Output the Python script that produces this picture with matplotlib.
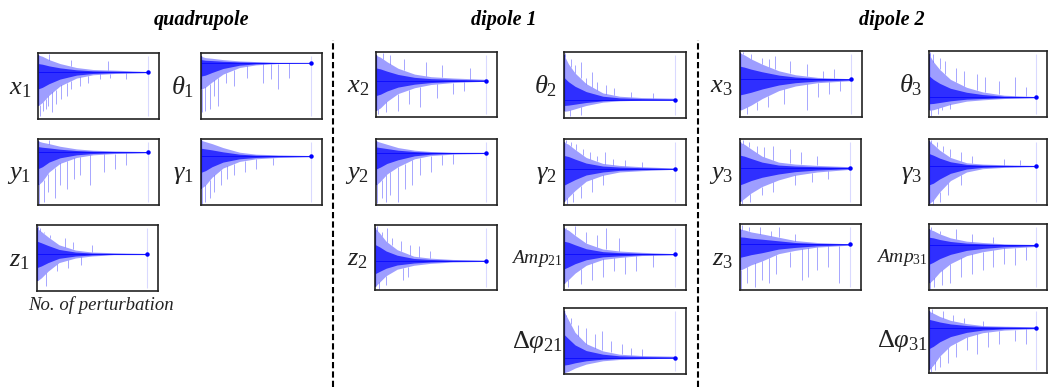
import matplotlib
matplotlib.use('Agg')
import matplotlib.pyplot as plt
import numpy as np

plt.rcParams['mathtext.fontset'] = 'custom'
plt.rcParams['mathtext.rm'] = 'Liberation Serif'
plt.rcParams['mathtext.it'] = 'Liberation Serif:italic'

W, H = 1049, 387

# perturbation index where each envelope value was read
grid = [0, 40, 100, 200, 350, 500, 700, 1000]

labels = [r'$x_{\mathit{1}}$', r'$\theta_{\mathit{1}}$', r'$y_{\mathit{1}}$', r'$\gamma_{\mathit{1}}$', r'$z_{\mathit{1}}$',
          r'$x_{2}$', r'$\theta_{2}$', r'$y_{2}$', r'$\gamma_{2}$', r'$z_{2}$',
          r'$\mathit{Amp}_{\mathit{21}}$', r'$\Delta\varphi_{\mathit{21}}$',
          r'$x_{3}$', r'$\theta_{3}$', r'$y_{3}$', r'$\gamma_{3}$', r'$z_{3}$',
          r'$\mathit{Amp}_{\mathit{31}}$', r'$\Delta\varphi_{\mathit{31}}$']

# converged value of each parameter (fraction of panel height)
levels = [0.71, 0.85, 0.80, 0.74, 0.56,
          0.56, 0.28, 0.79, 0.55, 0.45, 0.55, 0.25,
          0.57, 0.30, 0.56, 0.59, 0.69, 0.68, 0.70]

band_hi = [
    [0.97, 0.95, 0.90, 0.84, 0.78, 0.75, 0.74, 0.72],
    [0.95, 0.93, 0.92, 0.90, 0.88, 0.87, 0.86, 0.86],
    [0.97, 0.95, 0.93, 0.89, 0.85, 0.83, 0.82, 0.81],
    [0.98, 0.96, 0.93, 0.87, 0.80, 0.77, 0.76, 0.75],
    [0.95, 0.90, 0.82, 0.70, 0.62, 0.59, 0.58, 0.57],
    [0.95, 0.92, 0.85, 0.75, 0.66, 0.62, 0.60, 0.58],
    [0.95, 0.82, 0.68, 0.52, 0.38, 0.33, 0.31, 0.30],
    [0.97, 0.95, 0.92, 0.87, 0.83, 0.81, 0.80, 0.80],
    [0.95, 0.92, 0.84, 0.72, 0.63, 0.60, 0.58, 0.56],
    [0.95, 0.88, 0.75, 0.62, 0.52, 0.49, 0.47, 0.46],
    [0.95, 0.92, 0.84, 0.72, 0.63, 0.60, 0.58, 0.56],
    [0.95, 0.82, 0.63, 0.46, 0.35, 0.30, 0.28, 0.27],
    [0.97, 0.94, 0.88, 0.80, 0.70, 0.64, 0.60, 0.58],
    [0.95, 0.84, 0.72, 0.57, 0.45, 0.38, 0.33, 0.31],
    [0.95, 0.92, 0.85, 0.74, 0.65, 0.62, 0.60, 0.58],
    [0.97, 0.92, 0.83, 0.72, 0.64, 0.62, 0.61, 0.60],
    [0.92, 0.91, 0.88, 0.85, 0.80, 0.75, 0.72, 0.70],
    [0.92, 0.90, 0.85, 0.79, 0.74, 0.72, 0.70, 0.69],
    [0.95, 0.92, 0.87, 0.81, 0.76, 0.73, 0.72, 0.71],
]

band_lo = [
    [0.20, 0.25, 0.36, 0.50, 0.62, 0.67, 0.69, 0.70],
    [0.45, 0.48, 0.56, 0.68, 0.78, 0.82, 0.84, 0.85],
    [0.30, 0.36, 0.50, 0.63, 0.72, 0.76, 0.78, 0.79],
    [0.25, 0.30, 0.42, 0.56, 0.66, 0.70, 0.72, 0.73],
    [0.15, 0.20, 0.30, 0.43, 0.50, 0.53, 0.55, 0.55],
    [0.10, 0.14, 0.24, 0.36, 0.45, 0.50, 0.53, 0.55],
    [0.10, 0.11, 0.14, 0.19, 0.24, 0.26, 0.27, 0.27],
    [0.30, 0.36, 0.47, 0.58, 0.70, 0.75, 0.77, 0.78],
    [0.05, 0.12, 0.22, 0.36, 0.45, 0.50, 0.52, 0.54],
    [0.05, 0.12, 0.22, 0.32, 0.38, 0.41, 0.43, 0.44],
    [0.10, 0.16, 0.26, 0.38, 0.47, 0.50, 0.53, 0.54],
    [0.02, 0.04, 0.09, 0.15, 0.20, 0.22, 0.23, 0.24],
    [0.10, 0.13, 0.18, 0.28, 0.40, 0.47, 0.52, 0.55],
    [0.10, 0.11, 0.14, 0.19, 0.24, 0.26, 0.28, 0.29],
    [0.05, 0.10, 0.18, 0.28, 0.38, 0.45, 0.50, 0.54],
    [0.02, 0.07, 0.20, 0.37, 0.50, 0.55, 0.57, 0.58],
    [0.30, 0.33, 0.38, 0.44, 0.55, 0.60, 0.65, 0.68],
    [0.10, 0.16, 0.27, 0.40, 0.52, 0.58, 0.63, 0.66],
    [0.05, 0.12, 0.26, 0.42, 0.55, 0.62, 0.66, 0.68],
]

# isolated excursions: perturbation index and extreme value
spike_x = [
    [15, 45, 70, 95, 100, 130, 160, 210, 260, 300, 300, 380, 450, 560, 640, 650, 800],
    [10, 40, 80, 120, 150, 230, 300, 420, 560, 640, 700, 800],
    [10, 50, 90, 100, 150, 200, 260, 330, 380, 470, 600, 700, 800],
    [5, 40, 80, 120, 180, 240, 300, 400, 500, 650],
    [10, 30, 60, 80, 120, 180, 250, 280, 330, 400, 500],
    [20, 60, 90, 130, 200, 250, 300, 400, 450, 550, 600, 700, 800, 850],
    [10, 30, 50, 60, 100, 150, 150, 200, 250, 300, 380, 450, 600, 800],
    [10, 50, 90, 130, 200, 260, 330, 400, 500, 600, 700],
    [20, 30, 60, 80, 110, 150, 170, 230, 250, 300, 350, 370, 440, 550, 700],
    [20, 40, 60, 100, 110, 150, 230, 250, 300, 320, 400, 500],
    [20, 40, 100, 150, 200, 250, 300, 350, 380, 450, 500, 550, 650, 800],
    [20, 60, 130, 200, 280, 340, 420, 520, 600, 700],
    [30, 60, 100, 150, 200, 250, 260, 320, 400, 450, 600, 600, 700, 750, 800, 850, 900],
    [10, 20, 40, 80, 100, 120, 150, 200, 250, 330, 450, 520, 650, 800, 900],
    [20, 30, 80, 90, 150, 200, 220, 300, 300, 450, 500, 550, 650, 700, 800],
    [20, 40, 70, 100, 130, 180, 200, 300, 300, 400, 700, 850],
    [10, 20, 60, 80, 140, 180, 200, 260, 280, 330, 350, 450, 500, 560, 620, 700, 800, 900],
    [10, 20, 50, 100, 120, 200, 250, 300, 400, 400, 500, 600, 600, 700, 800, 900],
    [20, 30, 60, 100, 130, 180, 220, 250, 330, 350, 450, 500, 550, 650, 800, 900],
]

spike_y = [
    [0.05, 0.12, 0.15, 0.20, 0.98, 0.10, 0.22, 0.30, 0.35, 0.45, 0.90, 0.50, 0.55, 0.60, 0.88, 0.62, 0.60],
    [0.10, 0.12, 0.15, 0.35, 0.20, 0.55, 0.50, 0.62, 0.55, 0.60, 0.45, 0.62],
    [0.02, 0.05, 0.20, 0.98, 0.10, 0.30, 0.25, 0.40, 0.45, 0.30, 0.50, 0.55, 0.60],
    [0.02, 0.05, 0.10, 0.20, 0.30, 0.40, 0.45, 0.50, 0.55, 0.60],
    [0.98, 0.95, 0.90, 0.08, 0.85, 0.30, 0.80, 0.35, 0.75, 0.40, 0.70],
    [0.05, 0.98, 0.08, 0.95, 0.10, 0.90, 0.20, 0.15, 0.85, 0.30, 0.80, 0.35, 0.40, 0.75],
    [0.98, 0.85, 0.03, 0.90, 0.80, 0.85, 0.05, 0.60, 0.70, 0.55, 0.50, 0.45, 0.40, 0.38],
    [0.03, 0.10, 0.05, 0.15, 0.05, 0.25, 0.30, 0.45, 0.50, 0.60, 0.62],
    [0.98, 0.02, 0.95, 0.05, 0.92, 0.10, 0.85, 0.80, 0.20, 0.75, 0.30, 0.80, 0.70, 0.68, 0.65],
    [0.98, 0.02, 0.90, 0.08, 0.95, 0.80, 0.75, 0.15, 0.20, 0.70, 0.68, 0.60],
    [0.95, 0.05, 0.98, 0.10, 0.90, 0.15, 0.85, 0.20, 0.95, 0.30, 0.80, 0.25, 0.30, 0.35],
    [0.90, 0.85, 0.75, 0.70, 0.60, 0.65, 0.50, 0.45, 0.40, 0.38],
    [0.98, 0.05, 0.95, 0.10, 0.90, 0.15, 0.88, 0.92, 0.20, 0.85, 0.80, 0.10, 0.30, 0.70, 0.35, 0.72, 0.40],
    [0.98, 0.02, 0.95, 0.05, 0.90, 0.10, 0.85, 0.12, 0.75, 0.70, 0.65, 0.60, 0.55, 0.60, 0.45],
    [0.02, 0.98, 0.95, 0.05, 0.90, 0.15, 0.88, 0.90, 0.20, 0.85, 0.30, 0.80, 0.35, 0.75, 0.40],
    [0.98, 0.02, 0.95, 0.05, 0.90, 0.15, 0.85, 0.80, 0.30, 0.75, 0.70, 0.68],
    [0.02, 0.98, 0.10, 0.95, 0.05, 0.95, 0.15, 0.10, 0.90, 0.25, 0.95, 0.35, 0.85, 0.15, 0.20, 0.30, 0.35, 0.10],
    [0.02, 0.95, 0.05, 0.90, 0.08, 0.10, 0.92, 0.20, 0.25, 0.85, 0.30, 0.35, 0.80, 0.40, 0.38, 0.45],
    [0.02, 0.98, 0.05, 0.10, 0.95, 0.15, 0.90, 0.25, 0.85, 0.35, 0.30, 0.80, 0.40, 0.45, 0.50, 0.45],
]

# panel boxes in pixels: left, top, right, bottom
boxes = [
    (38, 53, 159, 119), (201, 53, 322, 119), (38, 139, 159, 205), (201, 139, 322, 205), (37, 225, 158, 291),
    (376, 52, 497, 117), (564, 52, 686, 118), (376, 139, 497, 205), (564, 139, 686, 205),
    (375, 225, 497, 290), (564, 225, 686, 290), (564, 308, 686, 374),
    (740, 51, 862, 117), (929, 51, 1047, 117), (740, 139, 861, 205), (929, 139, 1047, 205),
    (740, 224, 861, 290), (929, 224, 1047, 290), (929, 308, 1047, 373),
]

BLUE = '#0000ff'

fig = plt.figure(figsize=(W / 100, H / 100), dpi=100)


def px_axes(box):
    l, t, r, b = box
    return fig.add_axes([l / W, 1 - b / H, (r - l) / W, (b - t) / H])


for i, box in enumerate(boxes):
    ax = px_axes(box)
    lvl = levels[i]
    hi = np.array(band_hi[i])
    lo = np.array(band_lo[i])
    sx = np.array(spike_x[i])
    sy = np.array(spike_y[i])

    ax.fill_between(grid, lo, hi, color=BLUE, alpha=0.38, lw=0)
    ax.fill_between(grid, lvl + (lo - lvl) * 0.5, lvl + (hi - lvl) * 0.5,
                    color=BLUE, alpha=0.7, lw=0)
    # spikes start at the band edge so they don't streak through the band
    start = np.where(sy > lvl, np.interp(sx, grid, hi), np.interp(sx, grid, lo))
    ax.vlines(sx, start, sy, color=BLUE, lw=0.7, alpha=0.35)
    ax.plot([0, 1000], [lvl, lvl], color=BLUE, lw=0.6, alpha=0.8)
    ax.vlines(0, lo[0], hi[0], color=BLUE, lw=1.6)
    ax.vlines(1000, 0.04, 0.96, color=BLUE, lw=0.8, alpha=0.15)
    ax.plot(1000, lvl, 'o', color=BLUE, ms=2.2)

    ax.set_xlim(0, 1100)
    ax.set_ylim(0, 1)
    ax.set_xticks([])
    ax.set_yticks([])
    for s in ax.spines.values():
        s.set_linewidth(1.2)
        s.set_color('#222222')

    # parameter label to the left of the panel
    l, t, r, b = box
    small = 'Amp' in labels[i] or 'Delta' in labels[i]
    gap = 1 if small else 7
    fs = 14 if 'Amp' in labels[i] else 19
    fig.text((l - gap) / W, 1 - ((t + b) / 2 + 1) / H, labels[i], ha='right', va='center',
             fontsize=fs, color='#222222')

# group titles
for txt, cx in [('quadrupole', 201), ('dipole 1', 504), ('dipole 2', 892)]:
    fig.text(cx / W, 1 - 20 / H, txt, ha='center', va='center', fontsize=14.5,
             family='Liberation Serif', style='italic', weight='bold')

fig.text(101 / W, 1 - 305 / H, 'No. of perturbation', ha='center', va='center', fontsize=13.5,
         family='Liberation Serif', style='italic', color='#222222')

# separators between groups
for xs in [333, 698]:
    fig.add_artist(plt.Line2D([xs / W, xs / W], [0, 1 - 40 / H], color='black', lw=1.5,
                              linestyle=(0, (3, 1.5))))

fig.savefig('out.png', dpi=100)
